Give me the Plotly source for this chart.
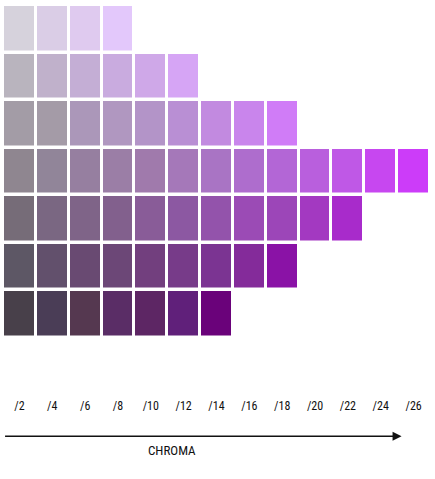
import plotly.graph_objects as go

chroma_labels = ["/2", "/4", "/6", "/8", "/10", "/12", "/14", "/16", "/18", "/20", "/22", "/24", "/26"]
value_rows = [8, 7, 6, 5, 4, 3, 2]

row_v8 = ["#d6d2dc", "#dacde6", "#dfcaef", "#e3c8fb"]
row_v7 = ["#b9b4be", "#c0b1cb", "#c4aed5", "#c9abdf", "#cfa8e8", "#d6a5f5"]
row_v6 = ["#a39ca6", "#a49ba7", "#ab97b9", "#b097c0", "#b394c8", "#b98fd4", "#c28ae0", "#c985ec", "#d07cf7"]
row_v5 = ["#8f8690", "#918599", "#967fa0", "#9b7ea6", "#a07aac", "#a578b9", "#a974c4", "#ae6dcd",
          "#b366d6", "#b95fdd", "#bf58e6", "#c747f0", "#cc3cf9"]
row_v4 = ["#766c78", "#7a6782", "#7f6488", "#82608d", "#895c98", "#8c58a2", "#9353ab", "#9b4bb5",
          "#9c46b8", "#a339c1", "#a82bcb"]
row_v3 = ["#5d5765", "#62506c", "#694a72", "#6c4777", "#723f7e", "#773b89", "#7b3492", "#842b9a", "#8a12a6"]
row_v2 = ["#48404a", "#4a3d56", "#553850", "#5a2d66", "#5d2664", "#60207a", "#6a027a"]

rows = [row_v8, row_v7, row_v6, row_v5, row_v4, row_v3, row_v2]

# build index grid + discrete colorscale
colors = []
z = []
for r in rows:
    zr = []
    for c in r:
        zr.append(len(colors))
        colors.append(c)
    zr += [None] * (len(chroma_labels) - len(r))
    z.append(zr)
N = len(colors)
cscale = []
for i, c in enumerate(colors):
    cscale.append([i / N, c])
    cscale.append([(i + 1) / N, c])

fig = go.Figure(go.Heatmap(
    z=z,
    x=chroma_labels,
    y=[str(v) for v in value_rows],
    colorscale=cscale,
    zmin=-0.5, zmax=N - 0.5,
    showscale=False,
    xgap=3, ygap=3.5,
    hoverinfo="skip",
))

W, H = 435, 479
ml, mr, mt, mb = 2.5, 4.5, 4.5, 140.5
FONT = "Liberation Sans Narrow, Roboto Condensed, DejaVu Sans Condensed, Roboto, sans-serif"
fig.update_layout(
    width=W, height=H,
    margin=dict(l=ml, r=mr, t=mt, b=mb, pad=0),
    paper_bgcolor="white", plot_bgcolor="white",
    font=dict(family=FONT, color="#111"),
    xaxis=dict(
        type="category", showgrid=False, zeroline=False, showline=False,
        ticks="", tickfont=dict(size=12), ticklabelstandoff=59,
    ),
    yaxis=dict(
        type="category", autorange="reversed", showgrid=False, zeroline=False,
        showline=False, showticklabels=False, ticks="",
    ),
    showlegend=False,
)

ph = H - mt - mb
def py(ypix):
    return (H - mb - ypix) / ph

# arrow
fig.add_annotation(
    xref="paper", yref="paper", x=(402 - ml) / (W - ml - mr), y=py(437),
    axref="pixel", ayref="pixel", ax=-(402 - 4), ay=0,
    showarrow=True, arrowhead=2, arrowsize=1.2, arrowwidth=1.5, arrowcolor="#111",
    text="",
)
fig.add_annotation(
    xref="paper", yref="paper", x=(172 - ml) / (W - ml - mr), y=py(451),
    text="CHROMA", showarrow=False, font=dict(size=13, color="#111"),
    xanchor="center", yanchor="middle",
)

fig.write_html("out.html")
